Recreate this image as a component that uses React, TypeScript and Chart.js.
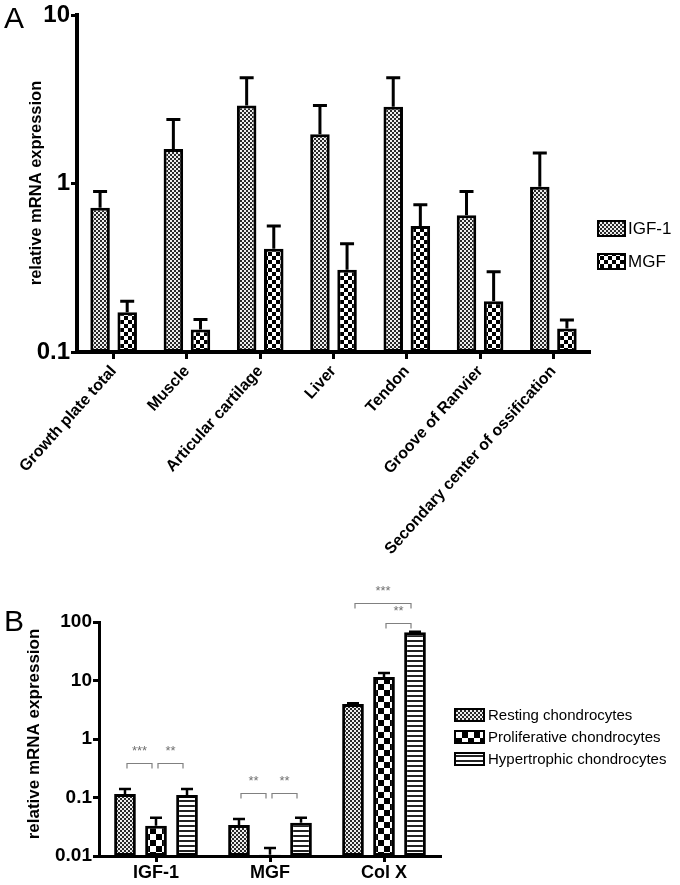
import React, { useEffect, useRef } from 'react';
import { Chart, registerables } from 'chart.js';
Chart.register(...registerables);

const FONT = '"Liberation Sans", Arial, Helvetica, sans-serif';

// ---------- Panel A data ----------
const tissues = [
  'Growth plate total',
  'Muscle',
  'Articular cartilage',
  'Liver',
  'Tendon',
  'Groove of Ranvier',
  'Secondary center of ossification',
];
const igf1Mean = [0.72, 1.61, 2.92, 1.97, 2.87, 0.65, 0.96];
const igf1Upper = [0.9, 2.41, 4.26, 2.92, 4.26, 0.9, 1.52];
const mgfMean = [0.172, 0.136, 0.41, 0.308, 0.56, 0.2, 0.138];
const mgfUpper = [0.2, 0.156, 0.56, 0.44, 0.75, 0.3, 0.155];
const panelATicks = [0.1, 1, 10];
const panelASeries = ['IGF-1', 'MGF'];

// ---------- Panel B data ----------
const genes = ['IGF-1', 'MGF', 'Col X'];
const restingMean = [0.115, 0.034, 3.96];
const restingUpper = [0.14, 0.043, 4.1];
const proliferativeMean = [0.033, 0.0105, 11.5];
const proliferativeUpper = [0.045, 0.0137, 13.4];
const hypertrophicMean = [0.11, 0.037, 67];
const hypertrophicUpper = [0.14, 0.045, 68];
const panelBTicks = [0.01, 0.1, 1, 10, 100];
const panelBSeries = ['Resting chondrocytes', 'Proliferative chondrocytes', 'Hypertrophic chondrocytes'];
const sigGroup = [0, 0, 1, 1, 2, 2];
const sigFrom = [0, 1, 0, 1, 0, 1];
const sigTo = [1, 2, 1, 2, 2, 2];
const sigLevel = [0.39, 0.39, 0.12, 0.12, 210, 96];
const sigLabel = ['***', '**', '**', '**', '***', '**'];

function makePattern(kind: string): CanvasPattern {
  const c = document.createElement('canvas');
  const ctx = c.getContext('2d')!;
  if (kind === 'fine') {
    c.width = 4; c.height = 4;
    ctx.fillStyle = '#eeeeee'; ctx.fillRect(0, 0, 4, 4);
    ctx.fillStyle = '#2a2a2a'; ctx.fillRect(0, 0, 2, 2); ctx.fillRect(2, 2, 2, 2);
  } else if (kind === 'coarse4') {
    c.width = 8; c.height = 8;
    ctx.fillStyle = '#ffffff'; ctx.fillRect(0, 0, 8, 8);
    ctx.fillStyle = '#000000'; ctx.fillRect(0, 0, 4, 4); ctx.fillRect(4, 4, 4, 4);
  } else if (kind === 'coarse6') {
    c.width = 12; c.height = 12;
    ctx.fillStyle = '#ffffff'; ctx.fillRect(0, 0, 12, 12);
    ctx.fillStyle = '#000000'; ctx.fillRect(0, 0, 6, 6); ctx.fillRect(6, 6, 6, 6);
  } else {
    c.width = 4; c.height = 5;
    ctx.fillStyle = '#ffffff'; ctx.fillRect(0, 0, 4, 5);
    ctx.fillStyle = '#222222'; ctx.fillRect(0, 0, 4, 2);
  }
  return ctx.createPattern(c, 'repeat')!;
}

function errorBars(uppers: number[][], lw: number, capHalf: number) {
  return {
    id: 'errorBars',
    afterDatasetsDraw(chart: any) {
      const ctx = chart.ctx;
      const ys = chart.scales.y;
      ctx.save();
      ctx.strokeStyle = '#000';
      ctx.lineWidth = lw;
      uppers.forEach((arr, di) => {
        const meta = chart.getDatasetMeta(di);
        meta.data.forEach((el: any, i: number) => {
          const x = el.x;
          const ye = ys.getPixelForValue(arr[i]);
          ctx.beginPath();
          ctx.moveTo(x, el.y);
          ctx.lineTo(x, ye);
          ctx.moveTo(x - capHalf, ye);
          ctx.lineTo(x + capHalf, ye);
          ctx.stroke();
        });
      });
      ctx.restore();
    },
  };
}

function PanelA() {
  const ref = useRef<HTMLCanvasElement>(null);
  useEffect(() => {
    const fine = makePattern('fine');
    const coarse = makePattern('coarse4');
    const fills = [fine, coarse];
    const decor = {
      id: 'decorA',
      afterDraw(chart: any) {
        const ctx = chart.ctx;
        ctx.save();
        ctx.fillStyle = '#000';
        ctx.textBaseline = 'alphabetic';
        ctx.textAlign = 'left';
        ctx.font = `30px ${FONT}`;
        ctx.fillText('A', 4, 28);
        ctx.save();
        ctx.translate(36, 183);
        ctx.rotate(-Math.PI / 2);
        ctx.textAlign = 'center';
        ctx.textBaseline = 'middle';
        ctx.font = `bold 16.5px ${FONT}`;
        ctx.fillText('relative mRNA expression', 0, 0);
        ctx.restore();
        panelASeries.forEach((name, i) => {
          const bx = 598, by = 221 + i * 33, bw = 27, bh = 15;
          ctx.fillStyle = fills[i];
          ctx.fillRect(bx, by, bw, bh);
          ctx.strokeStyle = '#000';
          ctx.lineWidth = 2;
          ctx.strokeRect(bx, by, bw, bh);
          ctx.fillStyle = '#000';
          ctx.font = `17px ${FONT}`;
          ctx.textBaseline = 'middle';
          ctx.textAlign = 'left';
          ctx.fillText(name, bx + bw + 3, by + bh / 2 + 1);
        });
        ctx.restore();
      },
    };
    const chart = new Chart(ref.current!, {
      type: 'bar',
      data: {
        labels: tissues,
        datasets: [
          { label: panelASeries[0], data: igf1Mean, backgroundColor: fine, borderColor: '#000', borderWidth: 3, borderSkipped: false },
          { label: panelASeries[1], data: mgfMean, backgroundColor: coarse, borderColor: '#000', borderWidth: 3, borderSkipped: false },
        ],
      },
      options: {
        responsive: false,
        animation: false,
        events: [],
        categoryPercentage: 0.74,
        barPercentage: 0.72,
        layout: { padding: { left: 0, right: 90, top: 13, bottom: 0 } },
        plugins: { legend: { display: false }, tooltip: { enabled: false } },
        scales: {
          x: {
            type: 'category',
            offset: true,
            grid: { display: true, drawOnChartArea: false, drawTicks: true, tickLength: 7, tickWidth: 3, tickColor: '#000', color: '#000', offset: false },
            border: { display: true, width: 4, color: '#000' },
            ticks: { color: '#000', font: { family: FONT, size: 16, weight: 'bold' }, minRotation: 48, maxRotation: 48, autoSkip: false, padding: 3 },
            afterFit: (s: any) => { s.height = 218; },
          },
          y: {
            type: 'logarithmic',
            min: 0.1,
            max: 10,
            afterBuildTicks: (s: any) => { s.ticks = panelATicks.map((v) => ({ value: v })); },
            grid: { display: true, drawOnChartArea: false, drawTicks: true, tickLength: 6, tickWidth: 3, tickColor: '#000', color: '#000' },
            border: { display: true, width: 4, color: '#000' },
            ticks: { color: '#000', font: { family: FONT, size: 24, weight: 'bold' }, padding: 1, callback: (v: any) => String(v) },
            afterFit: (s: any) => { s.width = 77; },
          },
        },
      } as any,
      plugins: [errorBars([igf1Upper, mgfUpper], 3, 7), decor],
    });
    return () => chart.destroy();
  }, []);
  return <canvas ref={ref} width={680} height={570} style={{ position: 'absolute', left: 0, top: 0, width: 680, height: 570 }} />;
}

function PanelB() {
  const ref = useRef<HTMLCanvasElement>(null);
  useEffect(() => {
    const fine = makePattern('fine');
    const coarse = makePattern('coarse6');
    const stripes = makePattern('stripes');
    const fills = [fine, coarse, stripes];
    const decor = {
      id: 'decorB',
      afterDraw(chart: any) {
        const ctx = chart.ctx;
        const ys = chart.scales.y;
        ctx.save();
        ctx.fillStyle = '#000';
        ctx.textAlign = 'left';
        ctx.textBaseline = 'alphabetic';
        ctx.font = `30px ${FONT}`;
        ctx.fillText('B', 4, 61);
        ctx.save();
        ctx.translate(34, 164);
        ctx.rotate(-Math.PI / 2);
        ctx.textAlign = 'center';
        ctx.textBaseline = 'middle';
        ctx.font = `bold 17px ${FONT}`;
        ctx.fillText('relative mRNA expression', 0, 0);
        ctx.restore();
        // legend
        panelBSeries.forEach((name, i) => {
          const bx = 455, cy = 145 + i * 22, bw = 29, bh = 12;
          ctx.fillStyle = fills[i];
          ctx.fillRect(bx, cy - bh / 2, bw, bh);
          ctx.strokeStyle = '#000';
          ctx.lineWidth = 2;
          ctx.strokeRect(bx, cy - bh / 2, bw, bh);
          ctx.fillStyle = '#000';
          ctx.font = `15px ${FONT}`;
          ctx.textBaseline = 'middle';
          ctx.textAlign = 'left';
          ctx.fillText(name, bx + bw + 4, cy + 1);
        });
        // significance brackets
        ctx.strokeStyle = '#808080';
        ctx.lineWidth = 1.2;
        ctx.fillStyle = '#707070';
        ctx.font = `13px ${FONT}`;
        ctx.textAlign = 'center';
        ctx.textBaseline = 'middle';
        sigGroup.forEach((g, k) => {
          const x1 = chart.getDatasetMeta(sigFrom[k]).data[g].x + 2;
          const x2 = chart.getDatasetMeta(sigTo[k]).data[g].x - 4;
          const y = Math.round(ys.getPixelForValue(sigLevel[k])) + 0.5;
          ctx.beginPath();
          ctx.moveTo(x1, y + 5);
          ctx.lineTo(x1, y);
          ctx.lineTo(x2, y);
          ctx.lineTo(x2, y + 5);
          ctx.stroke();
          ctx.fillText(sigLabel[k], (x1 + x2) / 2, y - 12);
        });
        ctx.restore();
      },
    };
    const chart = new Chart(ref.current!, {
      type: 'bar',
      data: {
        labels: genes,
        datasets: [
          { label: panelBSeries[0], data: restingMean, backgroundColor: fine, borderColor: '#000', borderWidth: 3, borderSkipped: false },
          { label: panelBSeries[1], data: proliferativeMean, backgroundColor: coarse, borderColor: '#000', borderWidth: 3, borderSkipped: false },
          { label: panelBSeries[2], data: hypertrophicMean, backgroundColor: stripes, borderColor: '#000', borderWidth: 3, borderSkipped: false },
        ],
      },
      options: {
        responsive: false,
        animation: false,
        events: [],
        categoryPercentage: 0.816,
        barPercentage: 0.7,
        layout: { padding: { left: 0, right: 239, top: 52, bottom: 0 } },
        plugins: { legend: { display: false }, tooltip: { enabled: false } },
        scales: {
          x: {
            type: 'category',
            offset: true,
            grid: { display: true, drawOnChartArea: false, drawTicks: true, tickLength: 6, tickWidth: 3, tickColor: '#000', color: '#000', offset: false },
            border: { display: true, width: 3, color: '#000' },
            ticks: { color: '#000', font: { family: FONT, size: 18, weight: 'bold' }, minRotation: 0, maxRotation: 0, autoSkip: false, padding: 0 },
            afterFit: (s: any) => { s.height = 29; },
          },
          y: {
            type: 'logarithmic',
            min: 0.01,
            max: 100,
            afterBuildTicks: (s: any) => { s.ticks = panelBTicks.map((v) => ({ value: v })); },
            grid: { display: true, drawOnChartArea: false, drawTicks: true, tickLength: 6, tickWidth: 3, tickColor: '#000', color: '#000' },
            border: { display: true, width: 3, color: '#000' },
            ticks: { color: '#000', font: { family: FONT, size: 19, weight: 'bold' }, padding: 1, callback: (v: any) => String(v) },
            afterFit: (s: any) => { s.width = 99; },
          },
        },
      } as any,
      plugins: [errorBars([restingUpper, proliferativeUpper, hypertrophicUpper], 2.5, 6), decor],
    });
    return () => chart.destroy();
  }, []);
  return <canvas ref={ref} width={680} height={315} style={{ position: 'absolute', left: 0, top: 570, width: 680, height: 315 }} />;
}

export default function App() {
  return (
    <div style={{ position: 'absolute', left: 0, top: 0, width: 680, height: 885, background: '#fff' }}>
      <PanelA />
      <PanelB />
    </div>
  );
}
